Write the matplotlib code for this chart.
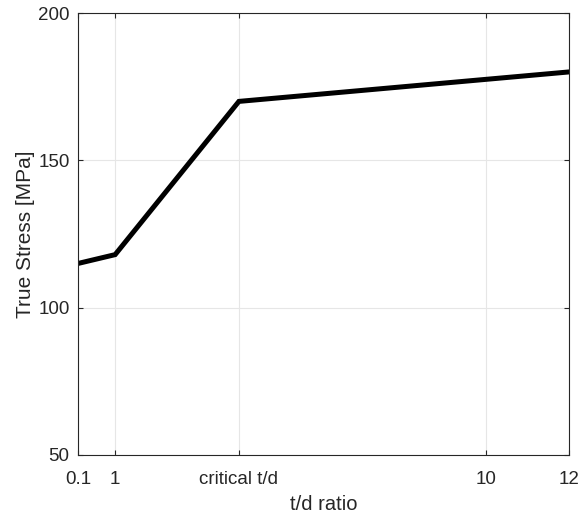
import matplotlib
matplotlib.use("Agg")
import matplotlib.pyplot as plt

plt.rcParams['font.family'] = ['Liberation Sans', 'DejaVu Sans']

td_ratio = [0.1, 1, 4, 12]
true_stress = [115, 118, 170, 180]
xtick_vals = [0.1, 1, 4, 10, 12]
xtick_labels = ['0.1', '1', 'critical t/d', '10', '12']
ytick_vals = [50, 100, 150, 200]

fig = plt.figure(figsize=(5.8, 5.14), dpi=100)
ax = fig.add_axes([0.1345, 0.1148, 0.981 - 0.1345, 0.9747 - 0.1148])

ax.plot(td_ratio, true_stress, color='black', linewidth=3.6, solid_joinstyle='miter')
ax.set_xlim(0.1, 12)
ax.set_ylim(50, 200)
ax.set_xticks(xtick_vals)
ax.set_xticklabels(xtick_labels)
ax.set_yticks(ytick_vals)

dark = '#262626'
ax.grid(True, color='#e6e6e6', linewidth=0.8)
ax.set_axisbelow(True)
for s in ax.spines.values():
    s.set_color(dark)
    s.set_linewidth(0.8)
ax.tick_params(direction='in', top=True, right=True, length=3.5, width=0.8,
               colors=dark, labelsize=13.5)
ax.tick_params(axis='x', pad=11.3)
ax.tick_params(axis='y', pad=6)
ax.set_xlabel('t/d ratio', fontsize=14.5, color=dark, labelpad=5)
ax.set_ylabel('True Stress [MPa]', fontsize=15, color=dark, labelpad=2)

fig.savefig('out.png', dpi=100)
